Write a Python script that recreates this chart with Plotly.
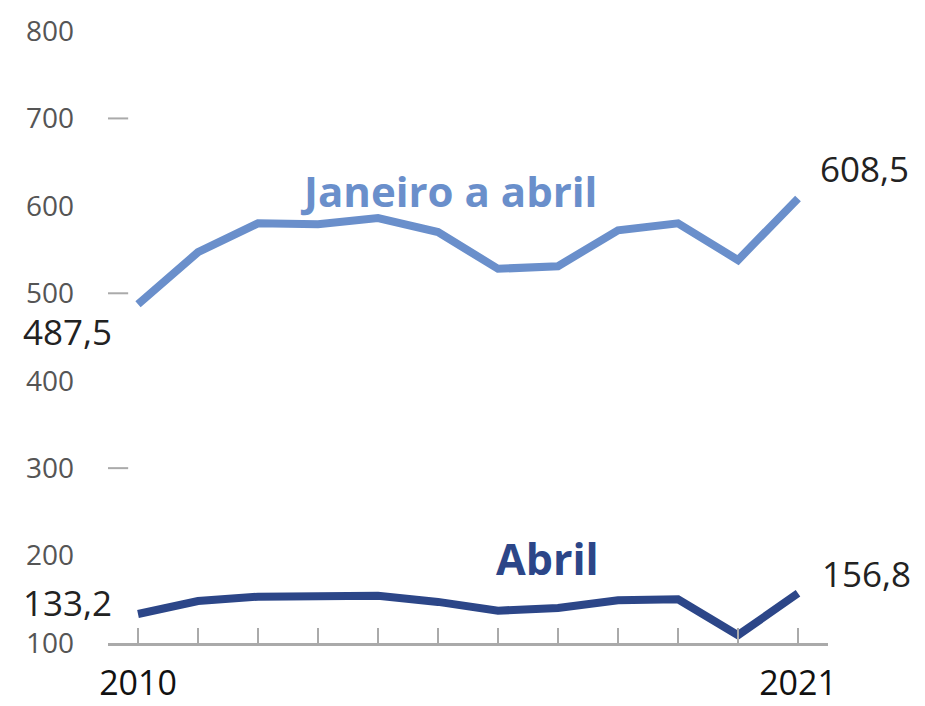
import plotly.graph_objects as go

years = list(range(2010, 2022))
jan_abr = [487.5, 547, 580, 579, 586, 570, 528, 531, 572, 580, 538, 608.5]
abril = [133.2, 148, 153, 153, 154, 147, 137, 140, 149, 150, 109, 156.8]
ytick_vals = [100, 200, 300, 400, 500, 600, 700, 800]
dash_vals = [300, 500, 700]
xtick_text = ["2010"] + [""] * 10 + ["2021"]

light = "#6a8fcb"
dark = "#2c4688"

fig = go.Figure()
fig.add_trace(go.Scatter(x=years, y=jan_abr, mode="lines",
                         line=dict(color=light, width=8), cliponaxis=False))
fig.add_trace(go.Scatter(x=years, y=abril, mode="lines",
                         line=dict(color=dark, width=8), cliponaxis=False))

font = "Open Sans"
ann = []
ann.append(dict(x=2015.17, y=618, text="<b>Janeiro a abril</b>", showarrow=False,
                font=dict(family=font, size=42, color=light)))
ann.append(dict(x=2016.83, y=197, text="<b>Abril</b>", showarrow=False,
                font=dict(family=font, size=43, color=dark)))
for (xv, yv, txt, xs, ys, xa) in [
    (years[-1], jan_abr[-1], "608,5", 20, 30, "left"),
    (years[0], jan_abr[0], "487,5", -24, -27, "right"),
    (years[0], abril[0], "133,2", -24, 11, "right"),
    (years[-1], abril[-1], "156,8", 22, 20, "left"),
]:
    ann.append(dict(x=xv, y=yv, text=txt, showarrow=False, xshift=xs, yshift=ys,
                    xanchor=xa, font=dict(family=font, size=35, color="#222")))

shapes = []
for v in dash_vals:
    shapes.append(dict(type="line", xref="paper", yref="y", x0=0, x1=0.028,
                       y0=v, y1=v, line=dict(color="#aaaaaa", width=2)))

fig.update_layout(
    width=925, height=706,
    margin=dict(l=108, r=97, t=31, b=63),
    paper_bgcolor="white", plot_bgcolor="white",
    showlegend=False,
    annotations=ann, shapes=shapes,
    xaxis=dict(range=[2009.5, 2021.5], tickvals=years, ticktext=xtick_text,
               ticks="inside", ticklen=15, tickwidth=2, tickcolor="#aaaaaa",
               showline=True, linecolor="#aaaaaa", linewidth=3,
               showgrid=False, zeroline=False, automargin=False,
               tickfont=dict(family=font, size=34, color="#111"),
               ticklabelstandoff=8),
    yaxis=dict(range=[100, 800], tickvals=ytick_vals, showgrid=False,
               zeroline=False, showline=False, ticks="", automargin=False,
               tickfont=dict(family=font, size=28, color="#555"),
               ticklabelstandoff=33),
)
fig.write_html("out.html")
